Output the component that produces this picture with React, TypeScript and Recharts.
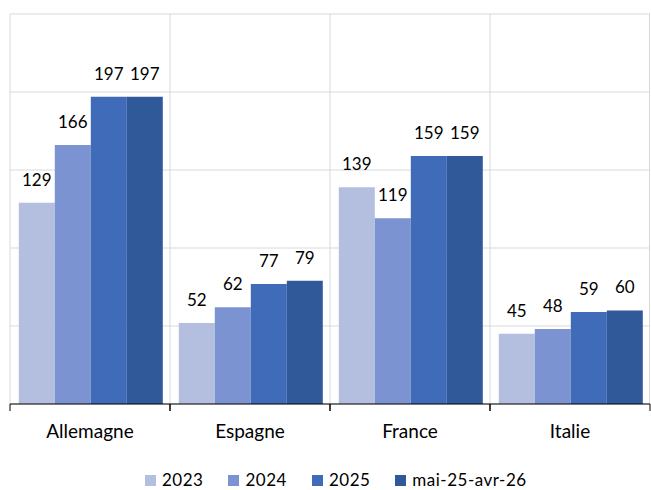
import React from 'react';
import { BarChart, Bar, XAxis, YAxis, CartesianGrid, Legend, LabelList } from 'recharts';

const categories = ['Allemagne', 'Espagne', 'France', 'Italie'];
const values2023 = [129, 52, 139, 45];
const values2024 = [166, 62, 119, 48];
const values2025 = [197, 77, 159, 59];
const valuesMai = [197, 79, 159, 60];
const yTicks = [0, 50, 100, 150, 200, 250];

const series = [
  { key: 's2023', name: '2023', color: '#b4bfe0' },
  { key: 's2024', name: '2024', color: '#7b93d0' },
  { key: 's2025', name: '2025', color: '#3f6bb8' },
  { key: 'sMai', name: 'mai-25-avr-26', color: '#30599a' },
];

const data = categories.map((c, i) => ({
  name: c,
  s2023: values2023[i],
  s2024: values2024[i],
  s2025: values2025[i],
  sMai: valuesMai[i],
}));

const W = 651;
const H = 490;
const margin = { top: 14, right: 1, left: 10, bottom: 0 };
const plotW = W - margin.left - margin.right;
const band = plotW / categories.length;
const font = 'Lato, "Open Sans", sans-serif';

// x tick: category label + boundary tick marks like the Excel axis
const CategoryTick = (props: any) => {
  const { x, y, payload } = props;
  return (
    <g>
      <line x1={x - band / 2} x2={x - band / 2} y1={y - 8} y2={y - 1} stroke="#000" />
      <line x1={x + band / 2} x2={x + band / 2} y1={y - 8} y2={y - 1} stroke="#000" />
      <text x={x} y={y + 26} textAnchor="middle" fill="#000" fontSize={19} fontFamily={font}>
        {payload.value}
      </text>
    </g>
  );
};

const LegendContent = () => (
  <div style={{ display: 'flex', alignItems: 'center', fontFamily: font, fontSize: 17, letterSpacing: 0.5, lineHeight: '20px', color: '#000', paddingLeft: 145 }}>
    {series.map((s) => (
      <div key={s.key} style={{ display: 'flex', alignItems: 'center', marginRight: 25 }}>
        <span style={{ display: 'inline-block', width: 11, height: 11, background: s.color, marginRight: 6 }} />
        <span>{s.name}</span>
      </div>
    ))}
  </div>
);

export default function App() {
  return (
    <div style={{ position: 'absolute', top: 0, left: 0, width: W, height: H, background: '#fff' }}>
      <BarChart width={W} height={H} data={data} margin={margin} barGap={0} barCategoryGap="5.5%">
        <CartesianGrid
          stroke="#d9d9d9"
          verticalCoordinatesGenerator={({ offset }: any) =>
            categories.map((_, i) => offset.left + i * (offset.width / categories.length)).concat(offset.left + offset.width - 0.5)
          }
        />
        <YAxis hide domain={[0, 250]} ticks={yTicks} />
        <XAxis
          dataKey="name"
          height={66}
          axisLine={{ stroke: '#000' }}
          tickLine={false}
          tick={<CategoryTick />}
          interval={0}
        />
        <Legend
          verticalAlign="bottom"
          height={20}
          content={<LegendContent />}
          wrapperStyle={{ top: 470, bottom: 'auto', left: 0, width: W, height: 20, overflow: 'visible' }}
        />
        {series.map((s) => (
          <Bar key={s.key} dataKey={s.key} name={s.name} fill={s.color} isAnimationActive={false}>
            <LabelList dataKey={s.key} position="top" offset={17} fill="#000" fontSize={17} fontFamily={font} />
          </Bar>
        ))}
      </BarChart>
    </div>
  );
}
